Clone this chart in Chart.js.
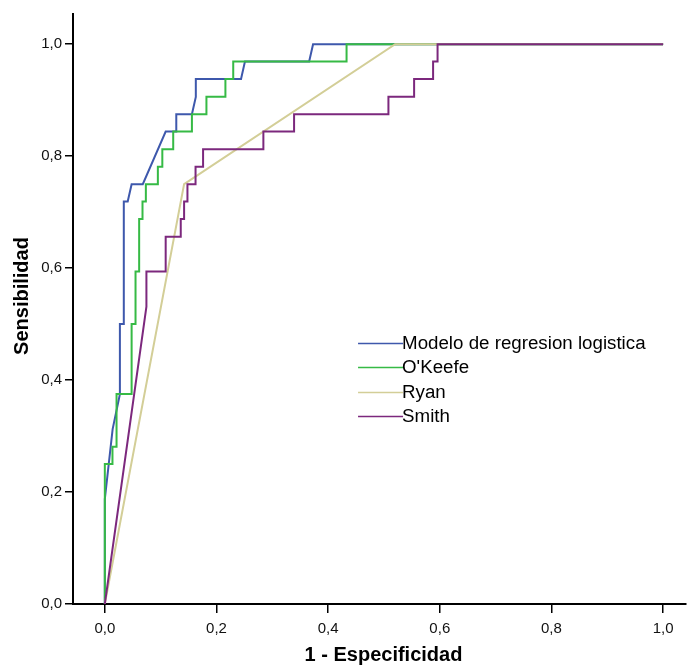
<!DOCTYPE html>
<html>
<head>
<meta charset="utf-8">
<script src="https://cdn.jsdelivr.net/npm/chart.js"></script>
<style>
  html, body { margin: 0; padding: 0; background: #fff; }
  canvas { display: block; }
</style>
</head>
<body>
<canvas id="c" width="687" height="667"></canvas>
<script>
// ---- Data (1 - Especificidad, Sensibilidad) ----
const seriesNames = ["Modelo de regresion logistica", "O'Keefe", "Ryan", "Smith"];

const modeloX = [0, 0, 0.014, 0.027, 0.027, 0.034, 0.034, 0.041, 0.048, 0.068, 0.109, 0.128, 0.128, 0.156, 0.163, 0.163, 0.244, 0.251, 0.366, 0.373, 1];
const modeloY = [0, 0.1875, 0.3125, 0.375, 0.5, 0.5, 0.719, 0.719, 0.75, 0.75, 0.844, 0.844, 0.875, 0.875, 0.906, 0.938, 0.938, 0.969, 0.969, 1, 1];

const okeefeX = [0, 0, 0.0137, 0.0137, 0.021, 0.021, 0.048, 0.048, 0.055, 0.055, 0.0615, 0.0615, 0.0675, 0.0675, 0.0735, 0.0735, 0.095, 0.095, 0.103, 0.103, 0.1225, 0.1225, 0.156, 0.156, 0.182, 0.182, 0.216, 0.216, 0.230, 0.230, 0.433, 0.433, 1];
const okeefeY = [0, 0.25, 0.25, 0.281, 0.281, 0.375, 0.375, 0.5, 0.5, 0.594, 0.594, 0.688, 0.688, 0.719, 0.719, 0.75, 0.75, 0.781, 0.781, 0.8125, 0.8125, 0.844, 0.844, 0.875, 0.875, 0.906, 0.906, 0.938, 0.938, 0.969, 0.969, 1, 1];

const ryanX = [0, 0.142, 0.52, 1];
const ryanY = [0, 0.75, 1, 1];

const smithX = [0, 0.0745, 0.0745, 0.109, 0.109, 0.136, 0.136, 0.142, 0.142, 0.148, 0.148, 0.1625, 0.1625, 0.176, 0.176, 0.284, 0.284, 0.339, 0.339, 0.508, 0.508, 0.554, 0.554, 0.588, 0.588, 0.596, 0.596, 1];
const smithY = [0, 0.531, 0.594, 0.594, 0.656, 0.656, 0.688, 0.688, 0.719, 0.719, 0.75, 0.75, 0.781, 0.781, 0.8125, 0.8125, 0.844, 0.844, 0.875, 0.875, 0.906, 0.906, 0.938, 0.938, 0.969, 0.969, 1, 1];

const xTicks = [0, 0.2, 0.4, 0.6, 0.8, 1.0];
const yTicks = [0, 0.2, 0.4, 0.6, 0.8, 1.0];
const xTitle = "1 - Especificidad";
const yTitle = "Sensibilidad";

// ---- Styles ----
const colors = ["#3E58AC", "#36BA45", "#D3CE97", "#7C287D"];

function pts(xs, ys) { return xs.map((x, i) => ({ x: x, y: ys[i] })); }
const seriesData = [pts(modeloX, modeloY), pts(okeefeX, okeefeY), pts(ryanX, ryanY), pts(smithX, smithY)];

const fmt = v => Number(v).toFixed(1).replace('.', ',');
const FONT = "'Liberation Sans', Arial, sans-serif";

const overlayPlugin = {
  id: 'overlay',
  afterDraw(chart) {
    const ctx = chart.ctx;
    const ca = chart.chartArea;
    ctx.save();
    // axis titles
    ctx.fillStyle = '#000';
    ctx.font = "bold 20px " + FONT;
    ctx.textAlign = 'center';
    ctx.textBaseline = 'middle';
    ctx.fillText(xTitle, (ca.left + ca.right) / 2 + 4, 655);
    ctx.save();
    ctx.translate(22, ca.top + (ca.bottom - ca.top) * 0.478);
    ctx.rotate(-Math.PI / 2);
    ctx.fillText(yTitle, 0, 0);
    ctx.restore();
    // legend
    const lx = ca.left + (ca.right - ca.left) * 0.465;
    const ly0 = ca.top + (ca.bottom - ca.top) * 0.5576;
    const dy = 24.5;
    ctx.font = "18px " + FONT;
    ctx.textAlign = 'left';
    seriesNames.forEach((name, i) => {
      const y = Math.round(ly0 + i * dy) + 0.5;
      ctx.strokeStyle = colors[i];
      ctx.lineWidth = 1.5;
      ctx.beginPath();
      ctx.moveTo(lx, y);
      ctx.lineTo(lx + 45, y);
      ctx.stroke();
      ctx.fillStyle = '#000';
      ctx.save();
      ctx.translate(lx + 44, y + 1);
      ctx.scale(1.04, 1);
      ctx.fillText(name, 0, 0);
      ctx.restore();
    });
    ctx.restore();
  }
};

new Chart(document.getElementById('c'), {
  type: 'line',
  data: {
    datasets: seriesData.map((d, i) => ({
      label: seriesNames[i],
      data: d,
      borderColor: colors[i],
      backgroundColor: colors[i],
      borderWidth: 2,
      pointRadius: 0,
      tension: 0,
      fill: false,
      order: 4 - i
    }))
  },
  options: {
    responsive: false,
    devicePixelRatio: 1,
    animation: false,
    layout: { padding: { top: 14, right: 1, left: 0, bottom: 0 } },
    plugins: { legend: { display: false }, tooltip: { enabled: false } },
    scales: {
      x: {
        type: 'linear',
        min: -0.057,
        max: 1.041,
        afterBuildTicks: s => { s.ticks = xTicks.map(v => ({ value: v })); },
        afterFit: s => { s.height = 63; },
        ticks: {
          callback: v => fmt(v),
          font: { family: FONT, size: 15 },
          color: '#111',
          padding: 7,
          maxRotation: 0,
          autoSkip: false
        },
        grid: { drawOnChartArea: false, drawTicks: true, tickLength: 9, color: '#000', lineWidth: 1.5 },
        border: { display: true, color: '#000', width: 2 }
      },
      y: {
        type: 'linear',
        min: 0,
        max: 1.054,
        afterBuildTicks: s => { s.ticks = yTicks.map(v => ({ value: v })); },
        afterFit: s => { s.width = 73; },
        ticks: {
          callback: v => fmt(v),
          font: { family: FONT, size: 15 },
          color: '#111',
          padding: 3,
          autoSkip: false
        },
        grid: { drawOnChartArea: false, drawTicks: true, tickLength: 8, color: '#000', lineWidth: 1.5 },
        border: { display: true, color: '#000', width: 2 }
      }
    }
  },
  plugins: [overlayPlugin]
});
</script>
</body>
</html>
